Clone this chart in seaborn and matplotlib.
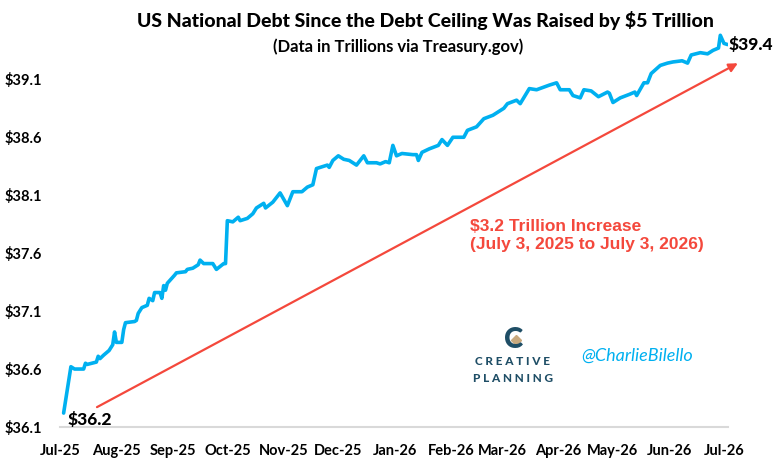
import matplotlib
matplotlib.use("Agg")
import matplotlib.pyplot as plt
import matplotlib.dates as mdates
from matplotlib.lines import Line2D
import pandas as pd
import seaborn as sns

sns.set_theme(style="white")
plt.rcParams['font.family'] = ['Lato', 'DejaVu Sans']

# daily total public debt, trillions
dates = [
    "2025-07-03", "2025-07-07", "2025-07-09", "2025-07-14", "2025-07-15", "2025-07-16",
    "2025-07-21", "2025-07-22", "2025-07-23", "2025-07-25", "2025-07-28", "2025-07-30",
    "2025-07-31", "2025-08-01", "2025-08-04", "2025-08-05", "2025-08-06", "2025-08-11",
    "2025-08-12", "2025-08-13", "2025-08-15", "2025-08-18", "2025-08-19", "2025-08-21",
    "2025-08-22", "2025-08-25", "2025-08-26", "2025-08-27", "2025-08-28", "2025-08-29",
    "2025-09-02", "2025-09-03", "2025-09-08", "2025-09-09", "2025-09-12", "2025-09-15",
    "2025-09-16", "2025-09-18", "2025-09-23", "2025-09-25", "2025-09-29", "2025-09-30",
    "2025-10-01", "2025-10-04", "2025-10-07", "2025-10-08", "2025-10-12", "2025-10-15",
    "2025-10-17", "2025-10-19", "2025-10-21", "2025-10-22", "2025-10-26", "2025-10-30",
    "2025-11-03", "2025-11-06", "2025-11-11", "2025-11-14", "2025-11-17", "2025-11-19",
    "2025-11-21", "2025-11-25", "2025-11-26", "2025-11-28", "2025-12-01", "2025-12-04",
    "2025-12-07", "2025-12-11", "2025-12-15", "2025-12-17", "2025-12-22", "2025-12-24",
    "2025-12-27", "2025-12-29", "2025-12-31", "2026-01-02", "2026-01-05", "2026-01-11",
    "2026-01-13", "2026-01-14", "2026-01-16", "2026-01-20", "2026-01-25", "2026-01-27",
    "2026-01-30", "2026-02-02", "2026-02-08", "2026-02-10", "2026-02-15", "2026-02-19",
    "2026-02-24", "2026-02-26", "2026-03-02", "2026-03-04", "2026-03-09", "2026-03-11",
    "2026-03-16", "2026-03-20", "2026-03-27", "2026-03-31", "2026-04-02", "2026-04-07",
    "2026-04-09", "2026-04-13", "2026-04-15", "2026-04-19", "2026-04-23", "2026-04-28",
    "2026-04-29", "2026-05-01", "2026-05-05", "2026-05-10", "2026-05-13", "2026-05-14",
    "2026-05-18", "2026-05-20", "2026-05-22", "2026-05-27", "2026-05-31", "2026-06-03",
    "2026-06-08", "2026-06-11", "2026-06-13", "2026-06-18", "2026-06-22", "2026-06-25",
    "2026-06-28", "2026-06-29", "2026-07-01", "2026-07-03",
]
debt = [
    36.22, 36.62, 36.60, 36.60, 36.65, 36.64,
    36.66, 36.71, 36.69, 36.72, 36.76, 36.81,
    36.92, 36.83, 36.83, 36.94, 37.00, 37.01,
    37.02, 37.08, 37.13, 37.15, 37.21, 37.19,
    37.26, 37.26, 37.21, 37.32, 37.28, 37.34,
    37.41, 37.43, 37.44, 37.46, 37.47, 37.50,
    37.54, 37.51, 37.51, 37.46, 37.51, 37.51,
    37.88, 37.87, 37.91, 37.88, 37.90, 37.94,
    37.99, 38.01, 38.03, 37.99, 38.04, 38.12,
    38.01, 38.13, 38.13, 38.17, 38.19, 38.33,
    38.34, 38.36, 38.34, 38.40, 38.44, 38.41,
    38.40, 38.36, 38.44, 38.38, 38.38, 38.37,
    38.39, 38.38, 38.53, 38.44, 38.46, 38.45,
    38.45, 38.40, 38.47, 38.50, 38.53, 38.58,
    38.53, 38.60, 38.60, 38.66, 38.69, 38.76,
    38.79, 38.81, 38.85, 38.89, 38.92, 38.89,
    39.02, 39.01, 39.05, 39.07, 39.01, 39.01,
    38.96, 38.94, 39.01, 39.00, 38.95, 38.99,
    38.98, 38.90, 38.94, 38.97, 38.99, 38.96,
    39.07, 39.07, 39.15, 39.22, 39.24, 39.25,
    39.26, 39.24, 39.31, 39.33, 39.32, 39.35,
    39.37, 39.48, 39.41, 39.40,
]
yticks = [36.1, 36.6, 37.1, 37.6, 38.1, 38.6, 39.1]

df = pd.DataFrame({"date": pd.to_datetime(dates), "debt": debt})

blue = "#00b0f0"
red = "#f4483c"
teal = "#1f4e66"

fig = plt.figure(figsize=(7.77, 4.67), dpi=100)
ax = fig.add_axes([0.0772, 0.0857, 0.8592, 0.8437])

sns.lineplot(data=df, x="date", y="debt", color=blue, linewidth=2.6, ax=ax)

ax.set_xlim(pd.Timestamp("2025-07-01"), pd.Timestamp("2026-07-03"))
ax.set_ylim(36.1, 39.5)
ax.set_yticks(yticks)
ax.set_yticklabels([f"${v:.1f}" for v in yticks])
ax.xaxis.set_major_locator(mdates.MonthLocator())
ax.xaxis.set_major_formatter(mdates.DateFormatter("%b-%y"))
ax.tick_params(axis="y", length=0, pad=13, labelsize=10.5)
ax.tick_params(axis="x", length=0, pad=12, labelsize=10.5)
for lab in ax.get_xticklabels() + ax.get_yticklabels():
    lab.set_fontweight("bold")
    lab.set_color("black")
ax.set_xlabel("")
ax.set_ylabel("")
for s in ["left", "right", "top"]:
    ax.spines[s].set_visible(False)
ax.spines["bottom"].set_color("#d9d9d9")
ax.spines["bottom"].set_linewidth(1.5)

# growth arrow
arrow_start = (pd.Timestamp("2025-07-20"), 36.26)
arrow_end = (pd.Timestamp("2026-07-10"), 39.25)
ax.annotate("", xy=arrow_end, xytext=arrow_start,
            arrowprops=dict(arrowstyle="-|>", color=red, lw=1.6, mutation_scale=13),
            annotation_clip=False)
ax.text(0.614, 0.486, "$3.2 Trillion Increase\n(July 3, 2025 to July 3, 2026)",
        transform=ax.transAxes, color=red, fontsize=12.5, fontweight="bold",
        family="Liberation Sans", ha="left", va="center", linespacing=1.2)

# start / end labels
ax.annotate(f"${debt[0]:.1f}", xy=(df["date"].iloc[0], debt[0]), xytext=(3, -5),
            textcoords="offset points", ha="left", va="center",
            fontsize=12.5, fontweight="black", color="black")
ax.annotate(f"${debt[-1]:.1f}", xy=(df["date"].iloc[-1], debt[-1]), xytext=(1, 0),
            textcoords="offset points", ha="left", va="center",
            fontsize=12.5, fontweight="black", color="black", annotation_clip=False)

fig.text(0.547, 0.957, "US National Debt Since the Debt Ceiling Was Raised by $5 Trillion",
         ha="center", va="center", fontsize=14, fontweight="black", color="black")
fig.text(0.512, 0.901, "(Data in Trillions via Treasury.gov)",
         ha="center", va="center", fontsize=12, fontweight="bold", color="black")

# logo and handle
fig.text(0.661, 0.272, "C", ha="center", va="center", fontsize=21, fontweight="black", color=teal)
fig.add_artist(Line2D([0.664], [0.272], marker="D", markersize=5.5, color="#c8a97e",
                      transform=fig.transFigure))
fig.text(0.660, 0.225, "C R E A T I V E", ha="center", va="center",
         fontsize=8.5, fontweight="black", color=teal)
fig.text(0.660, 0.190, "P L A N N I N G", ha="center", va="center",
         fontsize=8.5, fontweight="black", color=teal)
fig.text(0.820, 0.238, "@CharlieBilello", ha="center", va="center",
         fontsize=13, style="italic", color=blue)

fig.savefig("out.png", dpi=100)
